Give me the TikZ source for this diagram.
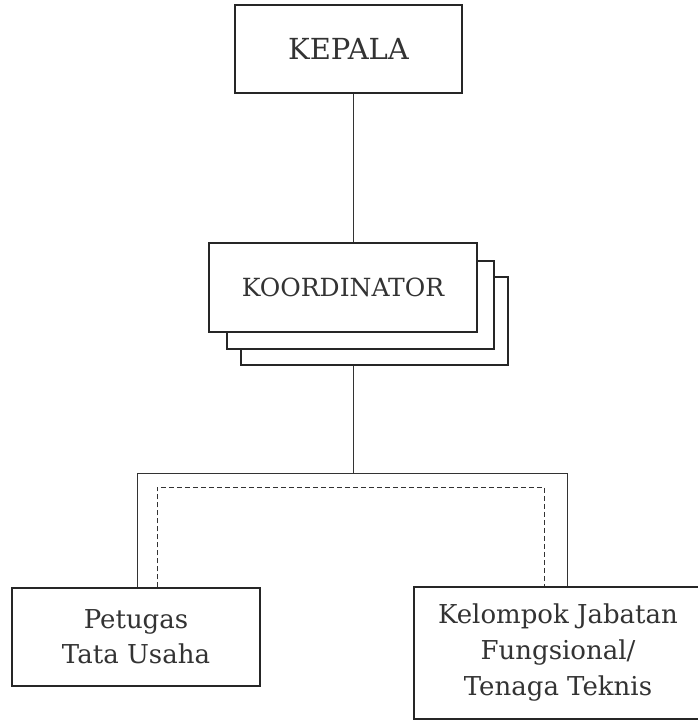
\documentclass[tikz,border=0pt]{standalone}
\usepackage{fontspec}
\setmainfont{DejaVu Serif}
\usepackage{tikz}
\usetikzlibrary{positioning}

\begin{document}
\begin{tikzpicture}[x=1pt, y=1pt]
    % Define styles
    \tikzstyle{unit}=[rectangle, draw=black!85, fill=white, line width=1.5pt, inner sep=0pt, align=center, text=black!80]
    \tikzstyle{link} = [draw=black!80, line width=0.9pt]
    \tikzstyle{dashed link} = [draw=black!80, line width=0.9pt, dash pattern=on 5pt off 3pt]

    \useasboundingbox (0,0) rectangle (697,-722);

    % Draw the units
    \node[unit, minimum width=227pt, minimum height=88pt, font=\fontsize{29}{34}\selectfont] (kepala) at (348.5,-49) {KEPALA};
    \node[unit, minimum width=267pt, minimum height=88pt] (koor3) at (374.5,-321) {};
    \node[unit, minimum width=267pt, minimum height=88pt] (koor2) at (360.5,-305) {};
    \node[unit, minimum width=268pt, minimum height=89pt, font=\fontsize{25}{30}\selectfont] (koor) at (343,-287.5) {KOORDINATOR};
    \node[unit, minimum width=248pt, minimum height=98pt, font=\fontsize{26}{35}\selectfont] (tu) at (136,-637) {Petugas\\Tata Usaha};
    \node[unit, minimum width=288pt, minimum height=132pt, font=\fontsize{26}{36}\selectfont] (jf) at (558,-653) {Kelompok Jabatan\\Fungsional/\\Tenaga Teknis};

    % Draw the lines
    \coordinate (bus) at (353,-473);
    \coordinate (busL) at (137,-473);
    \coordinate (busR) at (567,-473);
    \coordinate (dashL) at (157,-487);
    \coordinate (dashR) at (544,-487);

    \draw[link] (kepala.south -| bus) -- (koor.north -| bus);
    \draw[link] (koor3.south -| bus) -- (bus);
    \draw[link] (tu.north -| busL) -- (busL) -- (busR) -- (jf.north -| busR);
    \draw[dashed link] (tu.north -| dashL) -- (dashL) -- (dashR) -- (jf.north -| dashR);

\end{tikzpicture}
\end{document}
